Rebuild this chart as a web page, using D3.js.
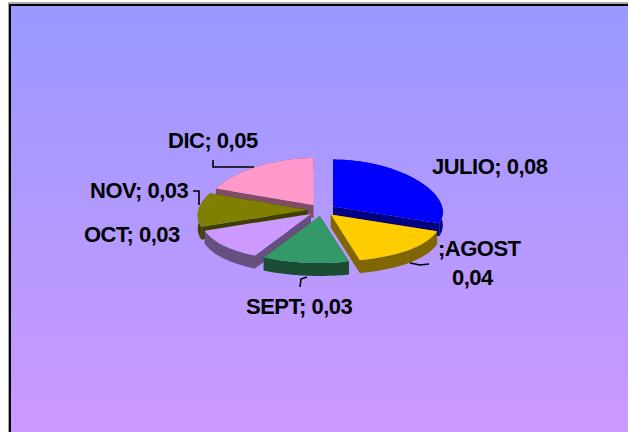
<!DOCTYPE html>
<html>
<head>
<meta charset="utf-8">
<script src="https://cdn.jsdelivr.net/npm/d3@7"></script>
<style>
  html, body { margin: 0; padding: 0; background: #fff; overflow: hidden; }
  svg { display: block; }
  text { font-family: "Liberation Sans", Arial, sans-serif; font-weight: bold; font-size: 22px; letter-spacing: -0.5px; fill: #000; }
</style>
</head>
<body>
<div id="viz"></div>
<script>
var categories = ["JULIO", "AGOST", "SEPT", "OCT", "NOV", "DIC"]
var values = [0.08, 0.04, 0.03, 0.03, 0.03, 0.05]
var topColors = ["#0000ff", "#ffcc00", "#339966", "#cc99ff", "#808000", "#ff99cc"]
var sideColors = ["#000080", "#806600", "#1a4d33", "#665080", "#404000", "#804d66"]

var width = 628, height = 432
var cx = 321.5, cy = 210, rx = 109, ry = 47, depth = 13
var explodeX = 14, explodeY = 6
var perspective = 0.12 // back of the pie is drawn a bit narrower than the front

var svg = d3.select("#viz").append("svg")
  .attr("width", width)
  .attr("height", height)

var grad = svg.append("defs").append("linearGradient")
  .attr("id", "bg")
  .attr("x1", 0).attr("y1", 0).attr("x2", 0).attr("y2", 1)
grad.append("stop").attr("offset", "0%").attr("stop-color", "#9999ff")
grad.append("stop").attr("offset", "100%").attr("stop-color", "#cc99ff")

// frame runs off the right and bottom of the picture
svg.append("rect").attr("x", 8).attr("y", 2).attr("width", width).attr("height", 2).attr("fill", "#a8a8a8")
svg.append("rect").attr("x", 8).attr("y", 2).attr("width", 1).attr("height", height).attr("fill", "#a8a8a8")
svg.append("rect")
  .attr("x", 10).attr("y", 5)
  .attr("width", width).attr("height", height)
  .attr("fill", "url(#bg)")
  .attr("stroke", "#000")
  .attr("stroke-width", 2)

var pie = d3.pie().sort(null).value(d => d)
var slices = pie(values).map((d, i) => {
  var mid = (d.startAngle + d.endAngle) / 2
  return {
    i: i,
    start: d.startAngle,
    end: d.endAngle,
    mid: mid,
    ox: cx + explodeX * Math.sin(mid),
    oy: cy - explodeY * Math.cos(mid)
  }
})

function rim(s, a, dy) {
  var w = rx * (1 - perspective * Math.cos(a))
  return [s.ox + w * Math.sin(a), s.oy - ry * Math.cos(a) + dy]
}

function arcPoints(s, dy) {
  return d3.range(0, 41).map(k => rim(s, s.start + (s.end - s.start) * k / 40, dy))
}

var line = d3.line()

// back slices first, front ones on top
var ordered = slices.slice().sort((a, b) => a.oy - b.oy)

ordered.forEach(s => {
  var g = svg.append("g")
  var side = sideColors[s.i]
  var apex = [s.ox, s.oy], apexLow = [s.ox, s.oy + depth]

  // the two cut walls
  ;[s.start, s.end].forEach(a => {
    g.append("path")
      .attr("d", line([apex, rim(s, a, 0), rim(s, a, depth), apexLow]) + "Z")
      .attr("fill", side)
  })

  // outer wall, only what faces the viewer shows
  var top = arcPoints(s, 0), low = arcPoints(s, depth).reverse()
  g.append("path")
    .attr("d", line(top.concat(low)) + "Z")
    .attr("fill", side)

  g.append("path")
    .attr("d", line([apex].concat(top)) + "Z")
    .attr("fill", topColors[s.i])
})

// leader lines
var leaders = [
  [[213, 160], [213, 167], [254, 167]],
  [[193, 191], [199, 191], [199, 205]],
  [[410, 263], [420, 265], [429, 264]],
  [[300, 287], [301, 279], [307, 277]]
]
svg.selectAll(".leader").data(leaders).enter().append("path")
  .attr("class", "leader")
  .attr("d", d => line(d))
  .attr("fill", "none")
  .attr("stroke", "#000")
  .attr("stroke-width", 1.6)

function fmt(v) { return String(v).replace(".", ",") }

var labelPos = [[432, 174], [438, 256], [246, 314], [84, 242], [90, 198], [168, 148]]

categories.forEach((c, i) => {
  var t = svg.append("text").attr("x", labelPos[i][0]).attr("y", labelPos[i][1])
  if (c == "AGOST") {
    t.append("tspan").text(";" + c)
    t.append("tspan").attr("x", 452).attr("y", 285).text(fmt(values[i]))
  } else {
    t.text(c + "; " + fmt(values[i]))
  }
})
</script>
</body>
</html>
